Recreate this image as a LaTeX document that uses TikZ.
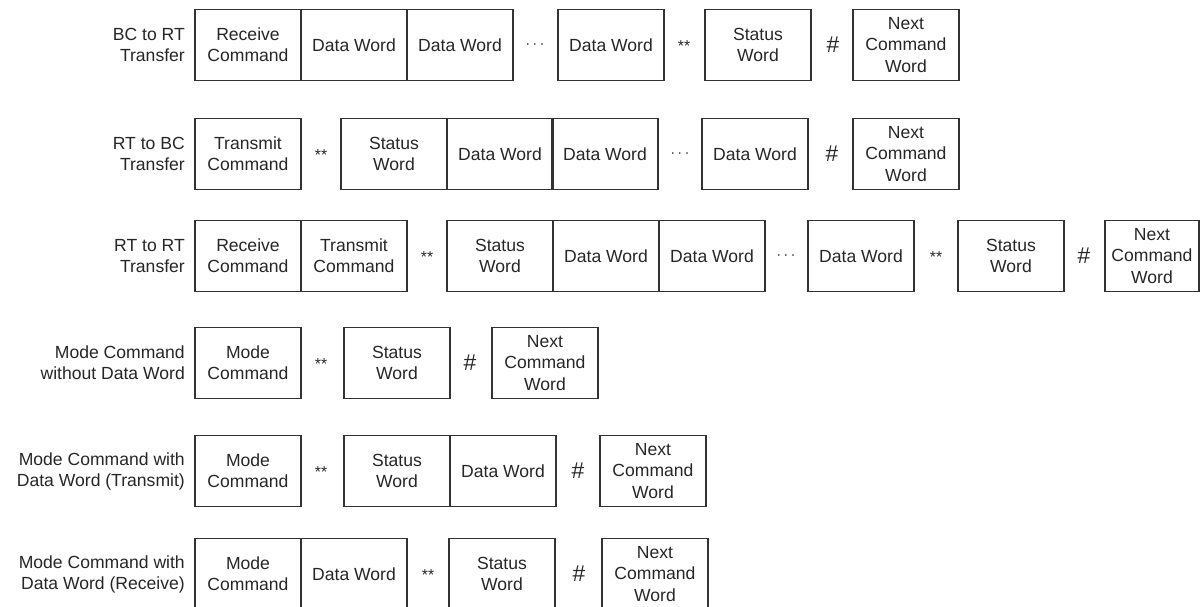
\documentclass[tikz,border=0pt]{standalone}
\usepackage{fontspec}
\setmainfont{Liberation Sans}
\begin{document}
\begin{tikzpicture}[
    x=0.02cm, y=-0.02cm,
    word/.style={draw=black!80, line width=0.9pt, minimum width=2.12cm, minimum height=1.42cm,
                 inner sep=1pt, outer sep=0pt, anchor=west, align=center, text=black!85,
                 font=\fontsize{10}{12}\selectfont},
    sym/.style={text=black!85, font=\fontsize{9}{11}\selectfont},
    hash/.style={text=black!85, font=\fontsize{13}{14}\selectfont},
    lbl/.style={anchor=east, align=right, text=black!85, font=\fontsize{10}{12}\selectfont}
  ]
  \useasboundingbox (0,0) rectangle (1200,607);

  % BC to RT
  \node[lbl] (l1) at (191,45) {BC to RT\\Transfer};
  \foreach \x/\t [count=\i] in {195/{Receive\\Command}, 301/{Data Word}, 407/{Data Word},
                                558/{Data Word}, 705/{Status\\Word}, 853/{Next\\Command\\Word}}
    \node[word] (r1w\i) at (\x,45) {\t};
  \node[sym] (r1s1) at (535,45) {$\cdots$};
  \node[sym] (r1s2) at (684,46) {**};
  \node[hash] (r1s3) at (833,45) {\#};

  % RT to BC
  \node[lbl] (l2) at (191,154) {RT to BC\\Transfer};
  \foreach \x/\t [count=\i] in {195/{Transmit\\Command}, 341/{Status\\Word}, 447/{Data Word},
                                552/{Data Word}, 702/{Data Word}, 853/{Next\\Command\\Word}}
    \node[word] (r2w\i) at (\x,154) {\t};
  \node[sym] (r2s1) at (321,155) {**};
  \node[sym] (r2s2) at (680,154) {$\cdots$};
  \node[hash] (r2s3) at (832,154) {\#};

  % RT to RT
  \node[lbl] (l3) at (191,256) {RT to RT\\Transfer};
  \foreach \x/\t [count=\i] in {195/{Receive\\Command}, 301/{Transmit\\Command}, 447/{Status\\Word},
                                553/{Data Word}, 659/{Data Word}, 808/{Data Word}, 958/{Status\\Word}}
    \node[word] (r3w\i) at (\x,256) {\t};
  \node[word, minimum width=1.88cm] (r3w8) at (1105,256) {Next\\Command\\Word};
  \node[sym] (r3s1) at (427,257) {**};
  \node[sym] (r3s2) at (786,256) {$\cdots$};
  \node[sym] (r3s3) at (936,257) {**};
  \node[hash] (r3s4) at (1084,256) {\#};

  % mode command, no data
  \node[lbl] (l4) at (191,363) {Mode Command\\without Data Word};
  \foreach \x/\t [count=\i] in {195/{Mode\\Command}, 344/{Status\\Word}, 492/{Next\\Command\\Word}}
    \node[word] (r4w\i) at (\x,363) {\t};
  \node[sym] (r4s1) at (321,364) {**};
  \node[hash] (r4s2) at (470,363) {\#};

  % mode command, transmit
  \node[lbl] (l5) at (191,471) {Mode Command with\\Data Word (Transmit)};
  \foreach \x/\t [count=\i] in {195/{Mode\\Command}, 344/{Status\\Word}, 450/{Data Word},
                                600/{Next\\Command\\Word}}
    \node[word] (r5w\i) at (\x,471) {\t};
  \node[sym] (r5s1) at (321,472) {**};
  \node[hash] (r5s2) at (578,471) {\#};

  % mode command, receive
  \node[lbl] (l6) at (191,574) {Mode Command with\\Data Word (Receive)};
  \foreach \x/\t [count=\i] in {195/{Mode\\Command}, 301/{Data Word}, 449/{Status\\Word},
                                602/{Next\\Command\\Word}}
    \node[word] (r6w\i) at (\x,574) {\t};
  \node[sym] (r6s1) at (428,575) {**};
  \node[hash] (r6s2) at (579,574) {\#};
\end{tikzpicture}
\end{document}
